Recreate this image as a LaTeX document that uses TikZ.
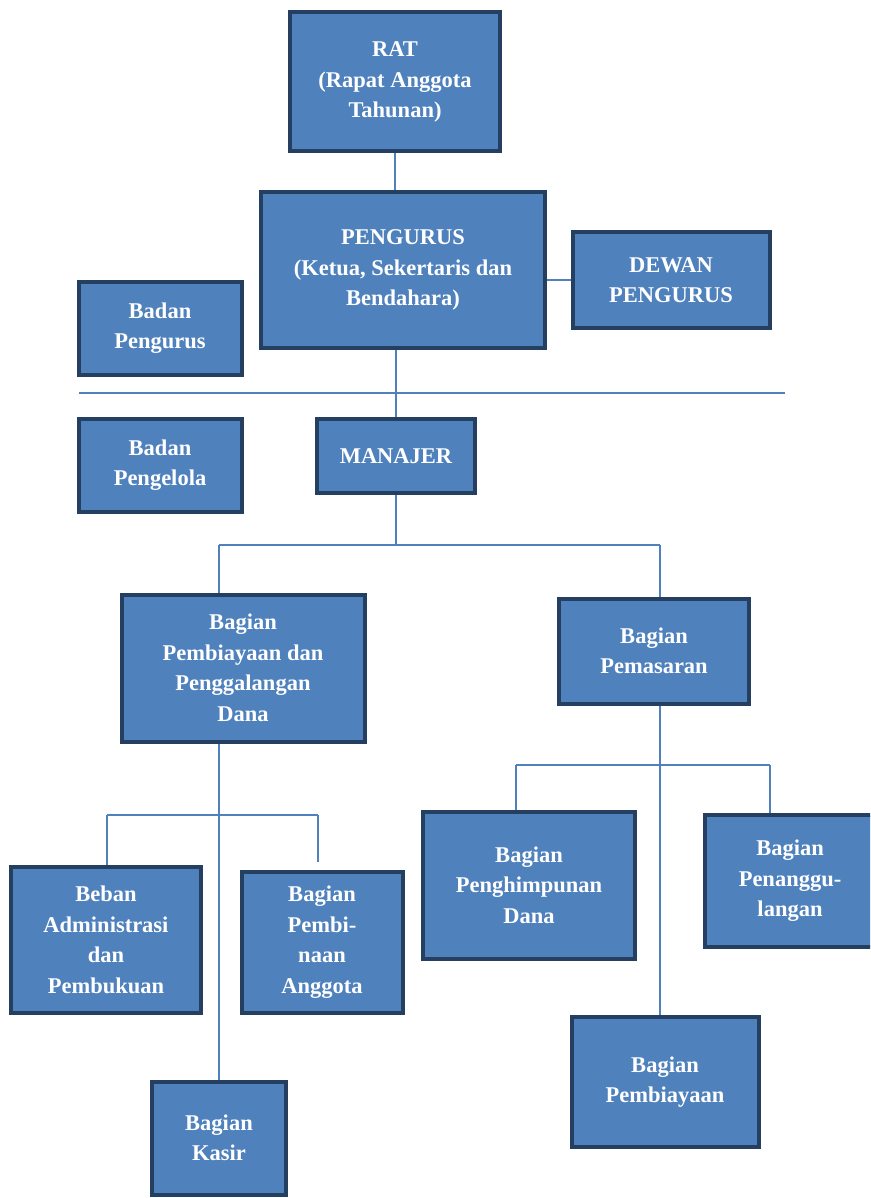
\documentclass[tikz,border=0pt]{standalone}
\usepackage{fontspec}
\setmainfont{Liberation Serif}
\definecolor{boxfill}{HTML}{4F81BD}
\definecolor{boxline}{HTML}{243F60}

\begin{document}
\begin{tikzpicture}[x=1pt, y=-1pt,
  orgbox/.style={draw=boxline, line width=4pt, fill=boxfill, text=white, inner sep=0pt,
    align=center, font=\bfseries\fontsize{22.5}{30.5}\selectfont},
  link/.style={draw=boxfill, line width=1.5pt}]
\clip (0,0) rectangle (870,1198);
\fill[white] (0,0) rectangle (870,1198);

% Top level
\node[orgbox, minimum width=210, minimum height=139] (rat) at (395,82) {RAT\\(Rapat Anggota\\Tahunan)};
\node[orgbox, minimum width=284, minimum height=156] (pengurus) at (403,270) {PENGURUS\\(Ketua, Sekertaris dan\\Bendahara)};
\node[orgbox, minimum width=197, minimum height=95] (dewan) at (671,280) {DEWAN\\PENGURUS};
\node[orgbox, minimum width=163, minimum height=93] (bpengurus) at (160,328) {Badan\\Pengurus};

% Separator
\coordinate (sepL) at (79,393);
\coordinate (sepR) at (785,393);

\node[orgbox, minimum width=163, minimum height=93] (bpengelola) at (160,465) {Badan\\Pengelola};
\node[orgbox, minimum width=158, minimum height=74] (manajer) at (396,456) {MANAJER};

% Second level
\node[orgbox, minimum width=243, minimum height=147] (dana) at (243,668) {Bagian\\Pembiayaan dan\\Penggalangan\\Dana};
\node[orgbox, minimum width=190, minimum height=105] (pemasaran) at (654,651) {Bagian\\Pemasaran};

% Under Pemasaran
\node[orgbox, minimum width=212, minimum height=147] (himpun) at (529,885) {Bagian\\Penghimpunan\\Dana};
\node[orgbox, minimum width=170, minimum height=132] (tanggul) at (790,881) {Bagian\\Penanggu-\\langan};
\node[orgbox, minimum width=187, minimum height=130] (biaya) at (665,1082) {Bagian\\Pembiayaan};

% Under Pembiayaan dan Penggalangan Dana
\node[orgbox, minimum width=190, minimum height=146] (beban) at (106,940) {Beban\\Administrasi\\dan\\Pembukuan};
\node[orgbox, minimum width=161, minimum height=141] (bina) at (322,942) {Bagian\\Pembi-\\naan\\Anggota};
\node[orgbox, minimum width=134, minimum height=113] (kasir) at (219,1138) {Bagian\\Kasir};

% Bus coordinates
\coordinate (busA) at (219,545);
\coordinate (busB) at (660,545);
\coordinate (busC) at (516,765);
\coordinate (busD) at (770,765);
\coordinate (busE) at (107,815);
\coordinate (busF) at (318,815);
\coordinate (binaEnd) at (318,862);

% Links
\draw[link] (rat.south) -- (rat.south |- pengurus.north);
\draw[link] (pengurus.east |- dewan.west) -- (dewan.west);
\draw[link] (sepL) -- (sepR);
\draw[link] (manajer.north |- pengurus.south) -- (manajer.north);
\draw[link] (manajer.south) -- (manajer.south |- busA);
\draw[link] (busA) -- (busB);
\draw[link] (busA) -- (busA |- dana.north);
\draw[link] (busB) -- (busB |- pemasaran.north);
\draw[link] (busB |- pemasaran.south) -- (busB |- biaya.north);
\draw[link] (busC) -- (busD);
\draw[link] (busC) -- (busC |- himpun.north);
\draw[link] (busD) -- (busD |- tanggul.north);
\draw[link] (kasir.north |- dana.south) -- (kasir.north);
\draw[link] (busE) -- (busF);
\draw[link] (busE) -- (busE |- beban.north);
\draw[link] (busF) -- (binaEnd);

\end{tikzpicture}
\end{document}
